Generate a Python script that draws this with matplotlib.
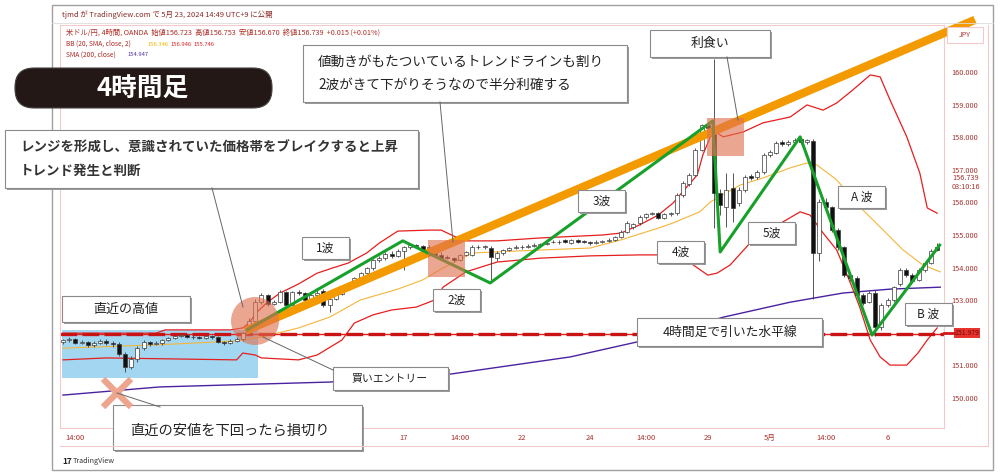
import matplotlib
matplotlib.use('Agg')
import matplotlib.pyplot as plt
from matplotlib.patches import Rectangle, Circle, FancyBboxPatch

plt.rcParams['font.family'] = ['Noto Sans CJK JP', 'DejaVu Sans']

# ---------------- data (USD/JPY 4H) ----------------
opens = [151.72,151.78,151.82,151.70,151.72,151.62,151.70,151.76,151.68,151.66,
         151.35,150.95,151.20,151.52,151.72,151.66,151.68,151.78,151.84,151.90,
         151.92,151.88,151.87,151.84,151.90,151.86,151.72,151.70,151.76,151.80,
         151.98,152.35,152.95,153.15,152.87,152.93,153.24,152.86,153.24,153.22,
         153.00,153.16,153.28,152.85,153.05,153.20,153.35,153.48,153.68,153.84,
         153.98,154.22,154.30,154.42,154.36,154.52,154.62,154.68,154.66,154.54,
         154.64,154.39,154.33,154.31,154.24,154.38,154.40,154.64,154.62,154.61,
         154.29,154.45,154.54,154.60,154.62,154.64,154.67,154.70,154.72,154.80,
         154.78,154.85,154.76,154.84,154.80,154.79,154.75,154.80,154.82,154.85,
         154.94,155.10,155.24,155.37,155.55,155.64,155.67,155.52,155.64,155.67,
         156.23,156.55,156.84,157.62,158.38,158.30,156.30,155.86,156.44,155.98,
         156.38,156.80,156.78,156.93,157.45,157.52,157.84,157.80,157.86,157.95,
         157.85,157.88,154.45,156.00,155.85,155.15,154.63,153.77,153.68,153.16,
         152.95,153.22,152.18,152.85,153.00,153.50,153.93,153.78,153.62,153.93,
         154.15,154.62]
highs = [151.82,151.86,151.85,151.78,151.76,151.74,151.80,151.80,151.74,151.72,
         151.40,151.28,151.60,151.78,151.76,151.74,151.82,151.88,151.93,151.96,
         151.95,151.92,151.90,151.94,151.94,151.90,151.76,151.80,151.86,152.02,
         152.45,153.05,153.22,153.20,153.00,153.30,153.28,153.28,153.30,153.26,
         153.20,153.30,153.34,153.10,153.24,153.40,153.52,153.72,153.88,154.02,
         154.26,154.36,154.48,154.50,154.58,154.66,154.74,154.72,154.70,154.68,
         154.70,154.48,154.38,154.34,154.42,154.52,154.68,154.70,154.68,154.66,
         154.50,154.58,154.64,154.68,154.68,154.72,154.74,154.76,154.80,154.84,
         154.84,154.88,154.88,154.88,154.84,154.82,154.84,154.86,154.90,154.98,
         155.14,155.42,155.36,155.60,155.68,155.72,155.72,155.68,155.72,156.28,
         156.66,156.90,157.66,158.42,158.46,160.40,156.42,156.90,156.90,156.46,
         156.84,156.86,156.98,157.50,157.60,157.88,157.90,157.92,157.96,158.00,
         157.94,157.95,156.10,156.12,155.90,155.20,154.66,153.84,153.74,153.22,
         153.28,153.30,152.92,153.06,153.44,153.98,154.00,153.84,153.98,154.18,
         154.56,154.75]
lows = [151.66,151.72,151.66,151.66,151.58,151.58,151.66,151.64,151.55,151.28,
        150.81,150.88,151.12,151.46,151.60,151.62,151.64,151.74,151.80,151.86,
        151.85,151.82,151.80,151.80,151.82,151.68,151.64,151.66,151.72,151.76,
        151.94,152.30,152.88,152.82,152.84,152.90,152.80,152.84,153.16,152.96,
        152.96,153.12,152.80,152.65,153.00,153.16,153.30,153.44,153.62,153.80,
        153.94,154.18,154.24,154.30,154.32,153.93,154.56,154.60,154.50,154.46,
        154.34,154.26,154.26,154.16,154.20,154.36,154.36,154.58,154.56,153.62,
        154.20,154.40,154.50,154.56,154.58,154.60,154.62,154.64,154.68,154.74,
        154.72,154.76,154.72,154.76,154.74,154.70,154.72,154.76,154.78,154.82,
        154.90,155.06,155.18,155.30,155.50,155.60,155.48,155.48,155.58,155.60,
        156.18,156.50,156.80,157.58,158.24,155.20,155.60,155.25,155.40,155.90,
        156.32,156.70,156.72,156.88,157.40,157.48,157.74,157.74,157.80,157.78,
        157.80,153.05,154.20,155.80,155.10,154.55,153.70,153.60,153.10,152.86,
        152.90,151.90,152.10,152.78,152.96,153.44,153.72,153.56,153.58,153.88,
        154.10,154.50]
closes = [151.78,151.82,151.70,151.72,151.62,151.70,151.76,151.68,151.66,151.35,
          150.95,151.20,151.52,151.72,151.66,151.68,151.78,151.84,151.90,151.92,
          151.88,151.87,151.84,151.90,151.86,151.72,151.70,151.76,151.80,151.98,
          152.35,152.95,153.15,152.87,152.93,153.24,152.86,153.24,153.22,153.00,
          153.16,153.22,152.85,153.05,153.20,153.35,153.48,153.68,153.84,153.98,
          154.22,154.30,154.42,154.36,154.52,154.62,154.68,154.66,154.54,154.64,
          154.39,154.30,154.31,154.22,154.38,154.47,154.64,154.62,154.65,154.33,
          154.45,154.54,154.60,154.64,154.64,154.67,154.70,154.72,154.75,154.78,
          154.79,154.80,154.85,154.80,154.79,154.75,154.80,154.82,154.85,154.94,
          155.10,155.37,155.33,155.55,155.64,155.67,155.52,155.64,155.67,156.23,
          156.60,156.85,157.60,158.36,158.28,156.30,155.92,156.38,155.83,156.38,
          156.78,156.76,156.93,157.45,157.55,157.82,157.80,157.86,157.92,157.85,
          157.90,154.45,156.00,155.85,155.15,154.63,153.77,153.68,153.16,152.91,
          153.22,152.18,152.85,153.00,153.40,153.93,153.78,153.60,153.93,154.15,
          154.50,154.55]

# Bollinger bands (20, 2) and SMA200 (bar index, price)
bb_up_x = [0, 15, 16.5, 27, 29, 30, 31.3, 33, 35, 38, 41, 43.5, 46, 49, 51, 54, 59, 61, 63, 65,
           70, 77, 87, 90, 93, 96, 98.4, 100.6, 102.3, 103.2, 104.4, 105.5, 106.5, 109.7, 112.9,
           117.3, 120, 122.6, 124.8, 127.4, 130.2, 131.8, 133.4, 136.1, 138.2, 139.4, 141]
bb_up_y = [151.99, 151.99, 152.09, 152.09, 152.15, 152.30, 152.64, 152.94, 153.22, 153.50, 153.83,
           153.99, 154.14, 154.45, 154.75, 155.12, 155.15, 155.15, 154.97, 154.82, 154.82, 154.91,
           155.00, 155.06, 155.31, 155.61, 155.98, 156.47, 156.84, 157.45, 158.01, 158.13, 158.01,
           158.16, 158.44, 158.62, 158.99, 158.83, 159.05, 159.45, 159.91, 159.85, 159.14, 158.01,
           156.90, 155.83, 155.67]
bb_lo_x = [0, 7, 28, 29, 31, 32, 38, 41, 45, 47, 50, 53, 57, 60, 61.3, 65, 68, 70, 77, 85, 93, 96,
           101, 104, 105.5, 107.6, 110.8, 116.1, 118.9, 120.5, 122.6, 124.8, 127, 128.5, 130.2,
           131.8, 133.4, 136.1, 137.9, 139.4, 141]
bb_lo_y = [151.17, 151.23, 151.17, 151.38, 151.32, 151.23, 151.17, 151.32, 151.78, 152.30, 152.55,
           152.70, 152.79, 153.01, 153.40, 153.87, 154.05, 154.17, 154.29, 154.36, 154.39, 154.39,
           154.17, 153.77, 153.83, 154.08, 154.75, 155.40, 155.71, 155.61, 155.06, 154.54, 153.53,
           152.79, 151.78, 151.26, 151.01, 151.01, 151.38, 151.78, 152.15]
bb_mid_x = [0, 15, 28, 32, 38, 43, 48, 54, 58, 61.3, 66, 77, 85, 90, 96, 98.4, 102.7, 104.4, 109.2,
            112.9, 117.3, 120, 121.6, 124.8, 129, 132.3, 135.5, 138.7, 141.5]
bb_mid_y = [151.53, 151.63, 151.75, 151.87, 152.15, 152.48, 153.01, 153.34, 153.62, 153.99, 154.45,
            154.54, 154.60, 154.85, 155.21, 155.37, 155.71, 156.01, 156.53, 156.75, 157.06, 157.21,
            157.15, 156.69, 155.77, 155.15, 154.54, 154.08, 153.87]
sma_x = [0, 15.6, 43, 61.6, 81.8, 92.6, 106.5, 117.3, 125.8, 133.4, 141.5]
sma_y = [150.09, 150.34, 150.49, 150.71, 151.26, 151.72, 152.48, 152.94, 153.22, 153.34, 153.40]

hline_price = 151.979

# Elliott wave path and trend line (bar index, price)
wave_x = [29.7, 54.8, 68.9, 104.8, 106.0, 118.9, 130.5, 141.4]
wave_y = [152.09, 154.82, 153.53, 158.50, 154.48, 158.01, 151.93, 154.69]
trend_x = [29.4, 147.1]
trend_y = [152.06, 161.60]

price_ticks = [150, 151, 153, 154, 155, 156, 157, 158, 159, 160]
time_tick_pos = [2, 55, 64, 74, 85, 94, 104, 114, 123, 133]
time_tick_lab = ['14:00', '17', '14:00', '22', '24', '14:00', '29', '5月', '14:00', '6']

AXC = '#a8322d'
PINK = '#f3c9c9'

fig = plt.figure(figsize=(10, 4.76), dpi=100)
fig.patch.set_facecolor('white')

# background overlay (below the chart)
axb = fig.add_axes([0, 0, 1, 1], zorder=0)
axb.set_xlim(0, 1000); axb.set_ylim(476, 0); axb.axis('off')
axb.add_patch(Rectangle((62, 330), 196, 48, fc='#a3d7f1', ec='none'))

# main chart
ax = fig.add_axes([0.060, 0.1008, 0.884, 0.8466], zorder=1)
ax.patch.set_alpha(0)
ax.set_xlim(-0.48, 142.1)
ax.set_ylim(149.08, 161.44)

ax.plot(sma_x, sma_y, color='#4a22a0', lw=1.0, zorder=2)
ax.plot(bb_up_x, bb_up_y, color='#e61e1e', lw=0.9, zorder=2)
ax.plot(bb_lo_x, bb_lo_y, color='#e61e1e', lw=0.9, zorder=2)
ax.plot(bb_mid_x, bb_mid_y, color='#f4b63a', lw=0.8, zorder=2)
ax.axhline(hline_price, color='#e02020', lw=1.0, zorder=2)
ax.axhline(hline_price, color='#c81414', lw=2.4, dashes=(5, 1.6), zorder=2)

xs = list(range(len(closes)))
ax.vlines(xs, lows, highs, color='#3a3a3a', lw=0.6, zorder=3)
for i in xs:
    o, c = opens[i], closes[i]
    up = c >= o
    ax.bar(i, max(abs(c - o), 0.015), bottom=min(o, c), width=0.66,
           color='white' if up else '#111111', edgecolor='#3a3a3a', linewidth=0.5, zorder=4)

ax.plot(trend_x, trend_y, color='#f39a00', lw=6.0, solid_capstyle='butt', zorder=5, clip_on=False)
ax.plot(wave_x, wave_y, color='#17a02a', lw=2.2, zorder=6)

ax.set_yticks(price_ticks)
ax.set_yticklabels([f'{v:.3f}' for v in price_ticks])
ax.yaxis.tick_right()
ax.tick_params(axis='y', length=0, pad=5, labelsize=5.3, labelcolor=AXC)
ax.set_xticks(time_tick_pos)
ax.set_xticklabels(time_tick_lab)
ax.tick_params(axis='x', length=0, pad=4, labelsize=5.5, labelcolor=AXC)
for s in ax.spines.values():
    s.set_color(PINK); s.set_linewidth(0.8)

# overlay annotations (pixel coordinates)
ov = fig.add_axes([0, 0, 1, 1], zorder=3)
ov.set_xlim(0, 1000); ov.set_ylim(476, 0); ov.axis('off'); ov.patch.set_alpha(0)

# frame
ov.add_patch(Rectangle((52, 5), 941, 465, fc='none', ec='#a0a0a0', lw=1.0))
ov.plot([60, 988], [446, 446], color=PINK, lw=0.8)
ov.plot([988, 988], [25, 446], color=PINK, lw=0.8)
ov.plot([52, 993], [23, 23], color='#dddddd', lw=0.6)
ov.add_patch(Rectangle((947, 27), 36, 16, fc='white', ec=PINK, lw=0.8))
ov.text(965, 35, 'JPY', fontsize=5, color=AXC, ha='center', va='center')
ov.text(966, 178, '156.739', fontsize=5.3, color=AXC, ha='center', va='center')
ov.text(966, 187, '03:10:16', fontsize=5.3, color=AXC, ha='center', va='center')
ov.plot([944, 954], [333, 333], color='#d01818', lw=2.0)
ov.add_patch(Rectangle((954, 328), 26, 10, fc='#e8332c', ec='none'))
ov.text(967, 333, '151.979', fontsize=5.0, color='#6b0a0a', ha='center', va='center')

# header texts
ov.text(62, 15, 'tjmd が TradingView.com で 5月 23, 2024 14:49 UTC+9 に公開', fontsize=5.4,
        color='#8c2a26', va='center')
ov.text(66, 33, '米ドル/円, 4時間, OANDA  始値156.723  高値156.753  安値156.670  終値156.739  +0.015 (+0.01%)',
        fontsize=5.2, color='#b02a22', va='center')
ov.text(66, 44, 'BB (20, SMA, close, 2)', fontsize=4.8, color='#b02a22', va='center')
ov.text(147, 44, '156.346', fontsize=4.2, color='#f2b400', va='center')
ov.text(170, 44, '156.946', fontsize=4.2, color='#e01e1e', va='center')
ov.text(193, 44, '155.746', fontsize=4.2, color='#e01e1e', va='center')
ov.text(66, 55, 'SMA (200, close)', fontsize=4.8, color='#b02a22', va='center')
ov.text(127, 55, '154.947', fontsize=4.2, color='#5030a0', va='center')
ov.text(62, 461, '17', fontsize=6, fontweight='bold', color='#222222', va='center')
ov.text(73, 461, 'TradingView', fontsize=5.2, color='#333333', va='center')

# translucent highlights
SAL = '#e07050'
ov.add_patch(Circle((255, 321), 24, fc=SAL, ec='none', alpha=0.62))
ov.add_patch(Rectangle((428, 240), 37, 37, fc=SAL, ec='none', alpha=0.62))
ov.add_patch(Rectangle((707, 118), 37, 38, fc=SAL, ec='none', alpha=0.62))
ov.plot([103, 131], [379, 407], color='#eda68d', lw=4.5, solid_capstyle='butt')
ov.plot([103, 131], [407, 379], color='#eda68d', lw=4.5, solid_capstyle='butt')

# pointer lines
for (x0, y0, x1, y1) in [(212, 188, 243, 307), (440, 102, 453, 242), (727, 57, 738, 120),
                         (263, 337, 333, 370), (160, 407, 117, 393)]:
    ov.plot([x0, x1], [y0, y1], color='#666666', lw=0.7)


def box(x0, y0, x1, y1):
    ov.add_patch(Rectangle((x0 + 1.5, y0 + 1.5), x1 - x0, y1 - y0, fc='#9a9a9a', ec='none'))
    ov.add_patch(Rectangle((x0, y0), x1 - x0, y1 - y0, fc='white', ec='#8a8a8a', lw=0.8))


# 4時間足 pill
ov.add_patch(FancyBboxPatch((15, 68), 257, 40, boxstyle='round,pad=0,rounding_size=19',
                            fc='#231815', ec='#444444', lw=0.8))
ov.text(143, 88, '4時間足', fontsize=18.5, fontweight='bold', color='white', ha='center', va='center')

box(5, 130, 418, 188)
ov.text(20, 148, 'レンジを形成し、意識されていた価格帯をブレイクすると上昇', fontsize=9.7,
        fontweight='bold', color='#333333', va='center')
ov.text(20, 171, 'トレンド発生と判断', fontsize=9.7, fontweight='bold', color='#333333', va='center')

box(303, 45, 627, 102)
ov.text(318, 62, '値動きがもたついているトレンドラインも割り', fontsize=9.8, color='#222222', va='center')
ov.text(318, 85, '2波がきて下がりそうなので半分利確する', fontsize=9.8, color='#222222', va='center')

box(650, 30, 770, 57)
ov.text(710, 43.5, '利食い', fontsize=9.3, color='#222222', ha='center', va='center')
box(62, 296, 190, 322)
ov.text(126, 309, '直近の高値', fontsize=9.4, color='#222222', ha='center', va='center')
box(333, 367, 448, 390)
ov.text(390, 378.5, '買いエントリー', fontsize=7.8, color='#222222', ha='center', va='center')
box(637, 318, 822, 346)
ov.text(730, 332, '4時間足で引いた水平線', fontsize=9.2, color='#222222', ha='center', va='center')
box(113, 405, 362, 450)
ov.text(130, 431, '直近の安値を下回ったら損切り', fontsize=10.3, color='#222222', va='center')

for lab, (x0, y0) in [('1波', (302, 237)), ('2波', (433, 289)), ('3波', (578, 190)),
                      ('4波', (657, 241)), ('5波', (748, 222)), ('A 波', (838, 186)),
                      ('B 波', (905, 303))]:
    box(x0, y0, x0 + 47, y0 + 22)
    ov.text(x0 + 23.5, y0 + 11, lab, fontsize=8.5, color='#222222', ha='center', va='center')

fig.savefig('out.png', dpi=100)
